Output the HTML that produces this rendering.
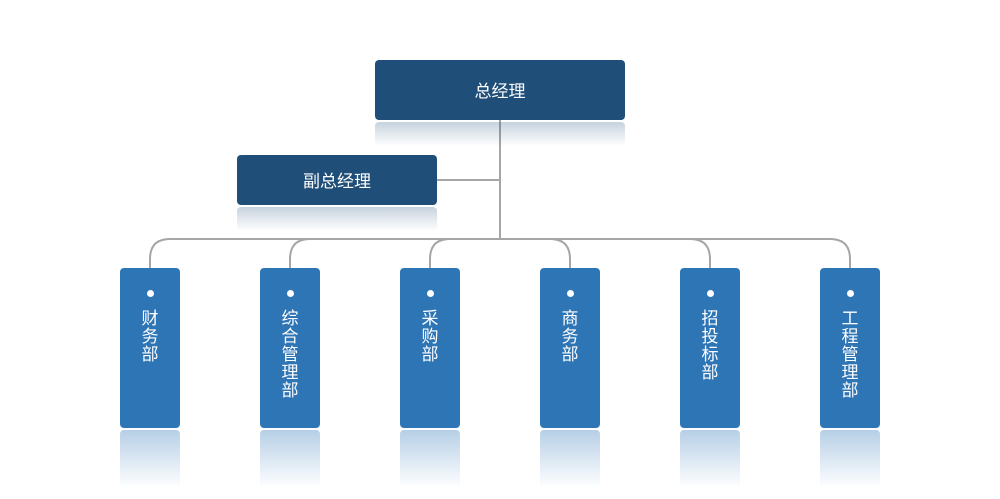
<!DOCTYPE html>
<html><head><meta charset="utf-8"><style>
body{margin:0;width:1000px;height:499px;background:#fff;position:relative;overflow:hidden;font-family:"Liberation Sans","Noto Sans CJK SC",sans-serif}
.b{position:absolute;border-radius:4px;color:#fff;display:flex;align-items:center;justify-content:center}
.top{background:#1f4e79;font-size:17px}
.ref{position:absolute;background:linear-gradient(to bottom,rgba(31,78,121,0.25),rgba(255,255,255,0));border-radius:4px}
.d{background:#2e75b6;width:60px;height:160px;top:268px;flex-direction:column;justify-content:flex-start}
.d .dot{width:7px;height:7px;border-radius:50%;background:#fff;margin-top:22px;margin-bottom:13px}
.d .t{font-size:17px;line-height:18px;width:18px;text-align:center}
.dr{position:absolute;top:430px;width:60px;height:58px;background:linear-gradient(to bottom,rgba(46,117,182,0.35),rgba(255,255,255,0));border-radius:4px}
</style></head><body>
<svg width="1000" height="499" style="position:absolute;left:0;top:0">
<g fill="none" stroke="#a6a6a6" stroke-width="2">
<path d="M500 120V239M437 180H500"/>
<path d="M150 268V259Q150 239 170 239H830Q850 239 850 259V268"/>
<path d="M290 268V259Q290 239 310 239M430 268V259Q430 239 450 239M570 268V259Q570 239 550 239M710 268V259Q710 239 690 239"/>
</g></svg>
<div class="b top" style="left:375px;top:60px;width:250px;height:60px;padding-bottom:2px;box-sizing:border-box">总经理</div>
<div class="ref" style="left:375px;top:122px;width:250px;height:24px"></div>
<div class="b top" style="left:237px;top:155px;width:200px;height:50px;padding-bottom:2px;box-sizing:border-box">副总经理</div>
<div class="ref" style="left:237px;top:207px;width:200px;height:24px"></div>
<div class="b d" style="left:120px"><div class="dot"></div><div class="t">财务部</div></div>
<div class="b d" style="left:260px"><div class="dot"></div><div class="t">综合管理部</div></div>
<div class="b d" style="left:400px"><div class="dot"></div><div class="t">采购部</div></div>
<div class="b d" style="left:540px"><div class="dot"></div><div class="t">商务部</div></div>
<div class="b d" style="left:680px"><div class="dot"></div><div class="t">招投标部</div></div>
<div class="b d" style="left:820px"><div class="dot"></div><div class="t">工程管理部</div></div>
<div class="dr" style="left:120px"></div><div class="dr" style="left:260px"></div><div class="dr" style="left:400px"></div><div class="dr" style="left:540px"></div><div class="dr" style="left:680px"></div><div class="dr" style="left:820px"></div>
</body></html>
